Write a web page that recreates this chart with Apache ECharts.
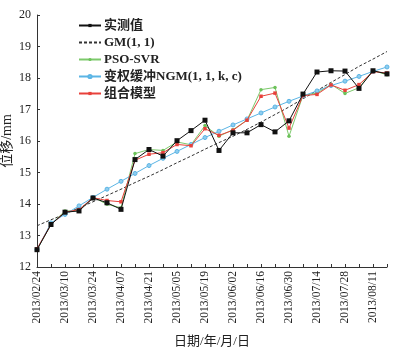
<!DOCTYPE html>
<html><head><meta charset="utf-8">
<script src="https://cdn.jsdelivr.net/npm/echarts@6/dist/echarts.min.js"></script>
<style>html,body{margin:0;padding:0;background:#fff}#c{width:400px;height:351px}</style>
</head><body><div id="c"></div>
<script>
const categories = ['2013/02/24','2013/03/03','2013/03/10','2013/03/17','2013/03/24','2013/03/31','2013/04/07','2013/04/14','2013/04/21','2013/04/28','2013/05/05','2013/05/12','2013/05/19','2013/05/26','2013/06/02','2013/06/09','2013/06/16','2013/06/23','2013/06/30','2013/07/07','2013/07/14','2013/07/21','2013/07/28','2013/08/04','2013/08/11','2013/08/18'];
const measured = [12.55,13.35,13.74,13.78,14.19,14.04,13.83,15.41,15.73,15.52,16.01,16.33,16.66,15.70,16.26,16.26,16.52,16.29,16.64,17.49,18.19,18.23,18.22,17.67,18.23,18.13];
const gm11 = [13.31,13.50,13.68,13.88,14.07,14.27,14.47,14.68,14.88,15.09,15.31,15.52,15.74,15.95,16.15,16.37,16.60,16.84,17.08,17.34,17.60,17.86,18.11,18.37,18.60,18.84];
const psoSvr = [12.55,13.35,13.78,13.78,14.22,13.99,13.88,15.60,15.73,15.70,15.97,15.88,16.49,16.15,16.36,16.66,17.63,17.70,16.15,17.45,17.52,17.80,17.51,17.69,18.24,18.10];
const ngm = [12.55,13.40,13.67,13.94,14.21,14.47,14.72,14.97,15.22,15.45,15.67,15.89,16.11,16.31,16.51,16.70,16.89,17.08,17.26,17.43,17.59,17.76,17.90,18.05,18.21,18.35];
const combined = [12.58,13.35,13.74,13.82,14.20,14.11,14.07,15.39,15.58,15.63,15.89,15.85,16.39,16.18,16.34,16.66,17.42,17.52,16.41,17.44,17.48,17.78,17.61,17.79,18.20,18.16];
const yMin = 12, yMax = 20, yStep = 1;

const serif = '"Liberation Serif","Noto Sans CJK SC",serif';
const chart = echarts.init(document.getElementById('c'), null, {renderer:'canvas'});
chart.setOption({
  animation:false,
  backgroundColor:'#fff',
  textStyle:{fontFamily:serif},
  grid:{left:37,right:13,top:15,bottom:84,containLabel:false,outerBoundsMode:'none'},
  legend:{
    orient:'vertical', left:73, top:14, itemGap:4, itemWidth:22, itemHeight:4,
    textStyle:{fontFamily:serif,fontWeight:'bold',fontSize:13,color:'#222',padding:[0,0,0,-2]},
    data:['实测值',{name:'GM(1, 1)',itemStyle:{opacity:0}},'PSO-SVR','变权缓冲NGM(1, 1, k, c)','组合模型']
  },
  xAxis:{
    type:'category', data:categories, boundaryGap:false,
    name:'日期/年/月/日', nameLocation:'middle', nameGap:68, nameMoveOverlap:false,
    nameTextStyle:{fontFamily:serif,fontSize:13,color:'#222'},
    axisLine:{lineStyle:{color:'#333',width:1}},
    axisTick:{inside:true,interval:0,length:3,lineStyle:{color:'#333'}},
    axisLabel:{interval:1,rotate:90,fontFamily:serif,fontSize:11.5,color:'#222',margin:4},
    splitLine:{show:false}
  },
  yAxis:{
    type:'value', min:yMin, max:yMax, interval:yStep,
    name:'位移/mm', nameLocation:'middle', nameGap:23, nameRotate:90, nameMoveOverlap:false,
    nameTextStyle:{fontFamily:serif,fontSize:14,color:'#222'},
    axisLine:{show:true,lineStyle:{color:'#333',width:1}},
    axisTick:{show:true,inside:true,length:3,lineStyle:{color:'#333'}},
    axisLabel:{fontFamily:serif,fontSize:12,color:'#222',margin:6},
    splitLine:{show:false}
  },
  series:[
    {name:'实测值',type:'line',data:measured,symbol:'rect',symbolSize:5,
     lineStyle:{color:'#111',width:1},itemStyle:{color:'#111'},z:5},
    {name:'GM(1, 1)',type:'line',data:gm11,symbol:'none',showSymbol:false,
     lineStyle:{color:'#333',width:1,type:[3,2]},itemStyle:{color:'#333'},z:2},
    {name:'PSO-SVR',type:'line',data:psoSvr,symbol:'circle',symbolSize:3.5,
     lineStyle:{color:'#7cc96b',width:1},itemStyle:{color:'#6cc25a'},z:3},
    {name:'变权缓冲NGM(1, 1, k, c)',type:'line',data:ngm,symbol:'circle',symbolSize:4,
     lineStyle:{color:'#5bb5e5',width:1},itemStyle:{color:'#8fcdef',borderColor:'#5bb5e5',borderWidth:1},z:3},
    {name:'组合模型',type:'line',data:combined,symbol:'rect',symbolSize:3.5,
     lineStyle:{color:'#e8413b',width:1},itemStyle:{color:'#e8413b'},z:4}
  ]
});
</script></body></html>
